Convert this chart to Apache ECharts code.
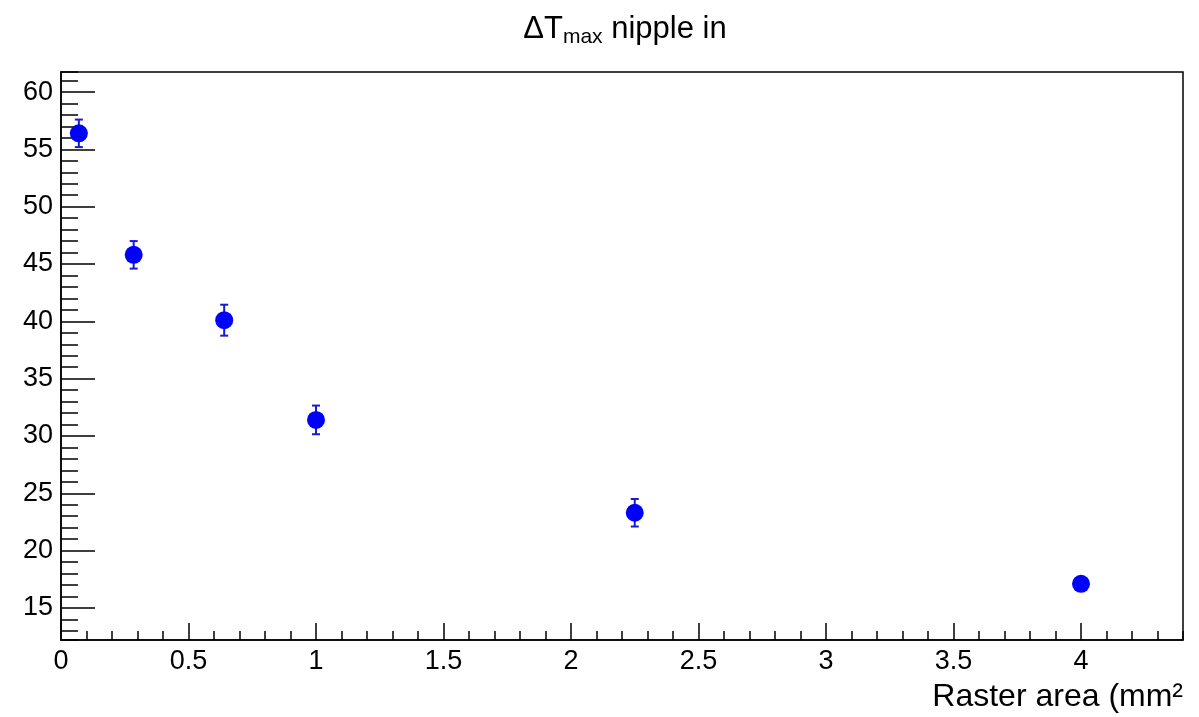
<!DOCTYPE html>
<html>
<head>
<meta charset="utf-8">
<script src="https://cdn.jsdelivr.net/npm/echarts@6/dist/echarts.min.js"></script>
<style>
html,body{margin:0;padding:0;background:#fff;}
#c{width:1199px;height:717px;}
</style>
</head>
<body>
<div id="c"></div>
<script>
// Data
const rasterArea = [0.07, 0.285, 0.64, 1.0, 2.25, 4.0];
const deltaTmax  = [56.4, 45.8, 40.1, 31.4, 23.3, 17.1];
const deltaTerr  = [1.2, 1.2, 1.35, 1.25, 1.2, 0.6];
const xRange = [0, 4.4];
const yRange = [12.2, 61.75];

const FONT = '"Liberation Sans", Arial, Helvetica, sans-serif';
const points = rasterArea.map((x, i) => [x, deltaTmax[i]]);
const errs = rasterArea.map((x, i) => [x, deltaTmax[i] - deltaTerr[i], deltaTmax[i] + deltaTerr[i]]);

const chart = echarts.init(document.getElementById('c'), null, {renderer: 'canvas'});
chart.setOption({
  animation: false,
  backgroundColor: '#ffffff',
  title: {
    text: '{a|ΔT}{b|max}{a| nipple in}',
    left: 620, top: 4, textAlign: 'center',
    textStyle: {
      fontWeight: 'normal',
      rich: {
        a: {fontFamily: FONT, fontSize: 31, fontWeight: 'normal', color: '#000', lineHeight: 40},
        b: {fontFamily: FONT, fontSize: 21, fontWeight: 'normal', color: '#000', lineHeight: 21, padding: [16, 0, 0, 0]}
      }
    }
  },
  grid: {
    left: 61, right: 16, top: 72, bottom: 77,
    show: true, borderColor: '#000', borderWidth: 1.5, backgroundColor: 'transparent',
    containLabel: false
  },
  xAxis: [
    {
      type: 'value', min: xRange[0], max: xRange[1], interval: 0.5, position: 'bottom',
      axisLine: {show: true, onZero: false, lineStyle: {color: '#000', width: 1.5}},
      axisTick: {show: true, inside: true, length: 17, lineStyle: {color: '#000', width: 1.5}},
      axisLabel: {
        fontFamily: FONT, fontSize: 27, color: '#000', margin: 8, showMaxLabel: false,
        formatter: v => (Math.abs(v * 2 - Math.round(v * 2)) < 1e-6 && v < 4.3) ? String(+v.toFixed(1)) : ''
      },
      splitLine: {show: false},
      name: 'Raster area (mm²', nameLocation: 'end', nameGap: 0,
      nameTextStyle: {fontFamily: FONT, fontSize: 32, color: '#000', align: 'right', verticalAlign: 'top', padding: [41, 0, 0, 0]}
    },
    {
      type: 'value', min: xRange[0], max: xRange[1], interval: 0.1, position: 'bottom', offset: 0,
      axisLine: {show: false, onZero: false},
      axisTick: {show: true, inside: true, length: 9, lineStyle: {color: '#000', width: 1.5}},
      axisLabel: {show: false},
      splitLine: {show: false}
    }
  ],
  yAxis: [
    {
      type: 'value', min: yRange[0], max: yRange[1], minInterval: 5, maxInterval: 5, splitNumber: 10, position: 'left',
      axisLine: {show: true, onZero: false, lineStyle: {color: '#000', width: 1.5}},
      axisTick: {show: true, inside: true, length: 34, lineStyle: {color: '#000', width: 1.5}},
      axisLabel: {
        fontFamily: FONT, fontSize: 27, color: '#000', margin: 8, showMinLabel: false, showMaxLabel: false,
        formatter: v => (Math.abs(v / 5 - Math.round(v / 5)) < 1e-6) ? String(Math.round(v)) : ''
      },
      splitLine: {show: false}
    },
    {
      type: 'value', min: yRange[0], max: yRange[1], minInterval: 1, maxInterval: 1, splitNumber: 50, position: 'left', offset: 0,
      axisLine: {show: false, onZero: false},
      axisTick: {show: true, inside: true, length: 17, lineStyle: {color: '#000', width: 1.5}},
      axisLabel: {show: false},
      splitLine: {show: false}
    }
  ],
  series: [
    {
      type: 'custom',
      xAxisIndex: 0, yAxisIndex: 0,
      data: errs,
      renderItem: function (params, api) {
        const x = api.value(0);
        const lo = api.coord([x, api.value(1)]);
        const hi = api.coord([x, api.value(2)]);
        const cap = 4;
        const style = {stroke: '#1a1ad0', lineWidth: 2};
        return {
          type: 'group',
          children: [
            {type: 'line', shape: {x1: lo[0], y1: lo[1], x2: hi[0], y2: hi[1]}, style: style},
            {type: 'line', shape: {x1: lo[0] - cap, y1: lo[1], x2: lo[0] + cap, y2: lo[1]}, style: style},
            {type: 'line', shape: {x1: hi[0] - cap, y1: hi[1], x2: hi[0] + cap, y2: hi[1]}, style: style}
          ]
        };
      },
      z: 2
    },
    {
      type: 'scatter',
      xAxisIndex: 0, yAxisIndex: 0,
      data: points,
      symbol: 'circle', symbolSize: 18,
      itemStyle: {color: '#0000ff', opacity: 1},
      z: 3
    }
  ]
});
</script>
</body>
</html>
